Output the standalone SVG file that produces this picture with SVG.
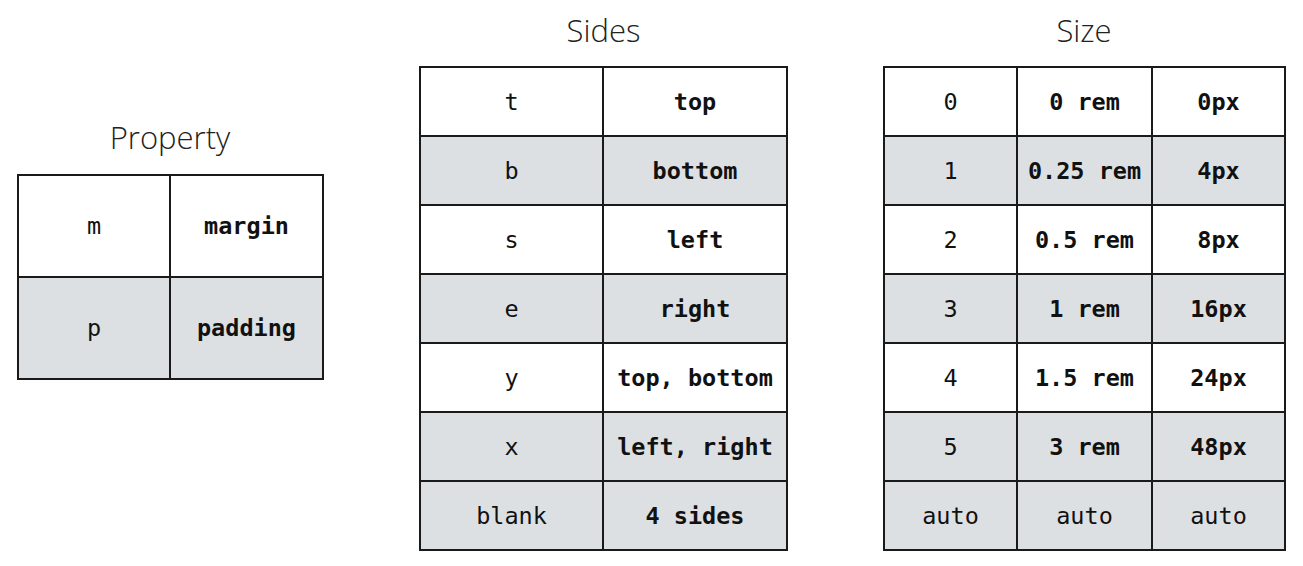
<svg xmlns="http://www.w3.org/2000/svg" width="1303" height="566" viewBox="0 0 1303 566">
<style>
.title{font-family:"Open Sans","Noto Sans","Liberation Sans",sans-serif;font-weight:300;font-size:31px;fill:#222;text-anchor:middle}
.c{font-family:"DejaVu Sans Mono","Liberation Mono",monospace;font-size:23.5px;fill:#111;text-anchor:middle}
.b{font-weight:bold}
.w{fill:#ffffff;stroke:#1a1a1a;stroke-width:2}
.g{fill:#dde0e3;stroke:#1a1a1a;stroke-width:2}
</style>
<rect width="1303" height="566" fill="#ffffff"/>
<g id="property">
<text class="title" x="170" y="149">Property</text>
<rect class="w" x="18" y="175" width="152" height="102"/>
<rect class="w" x="170" y="175" width="153" height="102"/>
<rect class="g" x="18" y="277" width="152" height="102"/>
<rect class="g" x="170" y="277" width="153" height="102"/>
<text class="c" x="94" y="234">m</text>
<text class="c b" x="246.5" y="234">margin</text>
<text class="c" x="94" y="336">p</text>
<text class="c b" x="246.5" y="336">padding</text>
</g>
<g id="sides">
<text class="title" x="603.5" y="42">Sides</text>
<rect class="w" x="420" y="67" width="183" height="69"/><rect class="w" x="603" y="67" width="184" height="69"/>
<rect class="g" x="420" y="136" width="183" height="69"/><rect class="g" x="603" y="136" width="184" height="69"/>
<rect class="w" x="420" y="205" width="183" height="69"/><rect class="w" x="603" y="205" width="184" height="69"/>
<rect class="g" x="420" y="274" width="183" height="69"/><rect class="g" x="603" y="274" width="184" height="69"/>
<rect class="w" x="420" y="343" width="183" height="69"/><rect class="w" x="603" y="343" width="184" height="69"/>
<rect class="g" x="420" y="412" width="183" height="69"/><rect class="g" x="603" y="412" width="184" height="69"/>
<rect class="g" x="420" y="481" width="183" height="69"/><rect class="g" x="603" y="481" width="184" height="69"/>
<text class="c" x="511.5" y="110">t</text><text class="c b" x="695" y="110">top</text>
<text class="c" x="511.5" y="179">b</text><text class="c b" x="695" y="179">bottom</text>
<text class="c" x="511.5" y="248">s</text><text class="c b" x="695" y="248">left</text>
<text class="c" x="511.5" y="317">e</text><text class="c b" x="695" y="317">right</text>
<text class="c" x="511.5" y="386">y</text><text class="c b" x="695" y="386">top, bottom</text>
<text class="c" x="511.5" y="455">x</text><text class="c b" x="695" y="455">left, right</text>
<text class="c" x="511.5" y="524">blank</text><text class="c b" x="695" y="524">4 sides</text>
</g>
<g id="size">
<text class="title" x="1084" y="42">Size</text>
<rect class="w" x="884" y="67" width="133" height="69"/><rect class="w" x="1017" y="67" width="135" height="69"/><rect class="w" x="1152" y="67" width="133" height="69"/>
<rect class="g" x="884" y="136" width="133" height="69"/><rect class="g" x="1017" y="136" width="135" height="69"/><rect class="g" x="1152" y="136" width="133" height="69"/>
<rect class="w" x="884" y="205" width="133" height="69"/><rect class="w" x="1017" y="205" width="135" height="69"/><rect class="w" x="1152" y="205" width="133" height="69"/>
<rect class="g" x="884" y="274" width="133" height="69"/><rect class="g" x="1017" y="274" width="135" height="69"/><rect class="g" x="1152" y="274" width="133" height="69"/>
<rect class="w" x="884" y="343" width="133" height="69"/><rect class="w" x="1017" y="343" width="135" height="69"/><rect class="w" x="1152" y="343" width="133" height="69"/>
<rect class="g" x="884" y="412" width="133" height="69"/><rect class="g" x="1017" y="412" width="135" height="69"/><rect class="g" x="1152" y="412" width="133" height="69"/>
<rect class="g" x="884" y="481" width="133" height="69"/><rect class="g" x="1017" y="481" width="135" height="69"/><rect class="g" x="1152" y="481" width="133" height="69"/>
<text class="c" x="950.5" y="110">0</text><text class="c b" x="1084.5" y="110">0 rem</text><text class="c b" x="1218.5" y="110">0px</text>
<text class="c" x="950.5" y="179">1</text><text class="c b" x="1084.5" y="179">0.25 rem</text><text class="c b" x="1218.5" y="179">4px</text>
<text class="c" x="950.5" y="248">2</text><text class="c b" x="1084.5" y="248">0.5 rem</text><text class="c b" x="1218.5" y="248">8px</text>
<text class="c" x="950.5" y="317">3</text><text class="c b" x="1084.5" y="317">1 rem</text><text class="c b" x="1218.5" y="317">16px</text>
<text class="c" x="950.5" y="386">4</text><text class="c b" x="1084.5" y="386">1.5 rem</text><text class="c b" x="1218.5" y="386">24px</text>
<text class="c" x="950.5" y="455">5</text><text class="c b" x="1084.5" y="455">3 rem</text><text class="c b" x="1218.5" y="455">48px</text>
<text class="c" x="950.5" y="524">auto</text><text class="c" x="1084.5" y="524">auto</text><text class="c" x="1218.5" y="524">auto</text>
</g>
<g id="connectors"/>
</svg>
